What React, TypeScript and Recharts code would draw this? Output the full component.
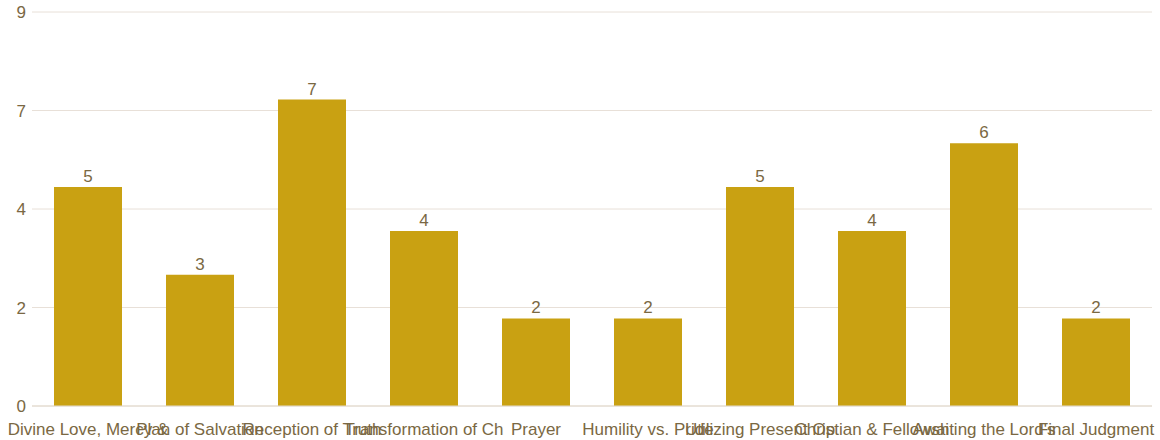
import React from "react";
import { BarChart, Bar, XAxis, YAxis, CartesianGrid, LabelList } from "recharts";

const categories = [
  "Divine Love, Mercy &",
  "Plan of Salvation",
  "Reception of Truth",
  "Transformation of Ch",
  "Prayer",
  "Humility vs. Pride",
  "Utilizing Present Op",
  "Christian & Fellowsh",
  "Awaiting the Lord's",
  "Final Judgment",
];
const counts = [5, 3, 7, 4, 2, 2, 5, 4, 6, 2];
const yTicks = [0, 2.25, 4.5, 6.75, 9];
const yTickLabels = ["0", "2", "4", "7", "9"];

const data = categories.map((name, i) => ({ name, value: counts[i] }));

const TEXT = "#7a6843";
const FONT = "'Liberation Sans', Arial, sans-serif";

export default function App() {
  return (
    <div style={{ position: "absolute", left: 0, top: 0 }}>
      <BarChart
        width={1160}
        height={440}
        data={data}
        margin={{ top: 12, right: 8, bottom: 4, left: 8 }}
      >
        <CartesianGrid vertical={false} stroke="#e8e0d8" />
        <XAxis
          dataKey="name"
          interval={0}
          tickLine={false}
          axisLine={{ stroke: "#e2dacd" }}
          height={30}
          tickSize={0}
          tickMargin={17}
          tick={{ fill: TEXT, fontSize: 17, fontFamily: FONT }}
        />
        <YAxis
          domain={[0, 9]}
          ticks={yTicks}
          tickFormatter={(v: number) => yTickLabels[yTicks.indexOf(v)] ?? String(v)}
          width={24}
          tickLine={false}
          axisLine={false}
          tickSize={0}
          tickMargin={6}
          tick={{ fill: TEXT, fontSize: 17, fontFamily: FONT }}
        />
        <Bar dataKey="value" fill="#c9a112" barSize={68} isAnimationActive={false}>
          <LabelList
            dataKey="value"
            position="top"
            offset={5}
            fill={TEXT}
            style={{ fontSize: 17, fontFamily: FONT }}
          />
        </Bar>
      </BarChart>
    </div>
  );
}
